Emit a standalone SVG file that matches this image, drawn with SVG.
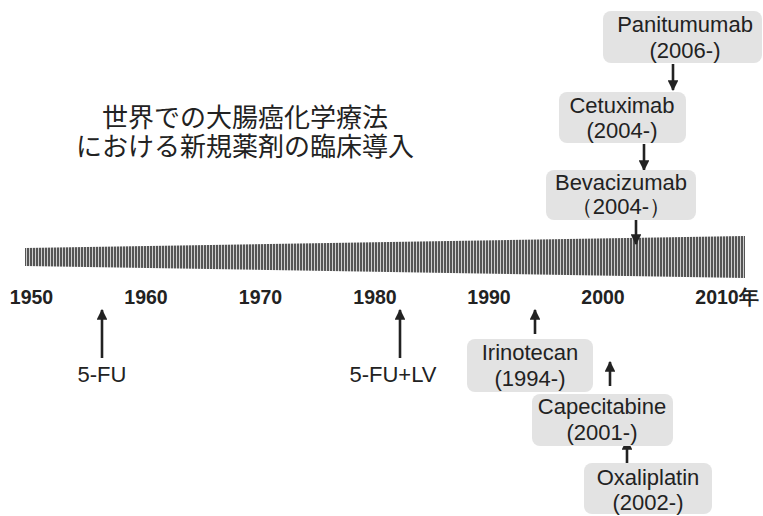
<svg xmlns="http://www.w3.org/2000/svg" width="763" height="516" viewBox="0 0 763 516">
<defs>
<pattern id="stripes" x="0" y="0" width="3" height="10" patternUnits="userSpaceOnUse">
<rect x="0" y="0" width="3" height="10" fill="#cfcfcf"/>
<rect x="0" y="0" width="2" height="10" fill="#555"/>
</pattern>
<marker id="ah" viewBox="0 0 10 10" refX="9" refY="5" markerWidth="4.2" markerHeight="4.2" markerUnits="strokeWidth" orient="auto">
<path d="M0,0 L10,5 L0,10 Z" fill="#222"/>
</marker>
</defs>
<style>
.box{fill:#e3e3e3;}
.lbl{font-family:"Liberation Sans",Arial,sans-serif;font-size:22px;fill:#222;text-anchor:middle;}
.yr{font-family:"Liberation Sans",Arial,sans-serif;font-size:19.5px;font-weight:bold;fill:#222;text-anchor:middle;}
.ttl{font-family:"Noto Sans CJK JP",sans-serif;font-size:26px;fill:#222;text-anchor:middle;}
.arr{stroke:#222;stroke-width:2.6;fill:none;marker-end:url(#ah);}
</style>
<rect width="763" height="516" fill="#fff"/>
<g id="title">
<text class="ttl" x="245" y="127">世界での大腸癌化学療法</text>
<text class="ttl" x="245" y="156">における新規薬剤の臨床導入</text>
</g>
<g id="timeline">
<polygon points="25,248 745,236 745,278 25,266" fill="url(#stripes)"/>
<text class="yr" x="31.5" y="304">1950</text>
<text class="yr" x="146" y="304">1960</text>
<text class="yr" x="260.5" y="304">1970</text>
<text class="yr" x="375" y="304">1980</text>
<text class="yr" x="489" y="304">1990</text>
<text class="yr" x="603" y="304">2000</text>
<text class="yr" x="727" y="304">2010年</text>
</g>
<g id="connectors">
<line class="arr" x1="673" y1="64" x2="673" y2="90"/>
<line class="arr" x1="644" y1="144" x2="644" y2="170"/>
<line class="arr" x1="636" y1="220" x2="636" y2="244"/>
<line class="arr" x1="102" y1="358" x2="102" y2="310"/>
<line class="arr" x1="400" y1="358" x2="400" y2="310"/>
<line class="arr" x1="535" y1="334" x2="535" y2="310"/>
<line class="arr" x1="610" y1="386" x2="610" y2="362"/>
<line class="arr" x1="627" y1="463" x2="627" y2="440"/>
</g>
<g id="n-5fu"><text class="lbl" x="102" y="382">5-FU</text></g>
<g id="n-5fulv"><text class="lbl" x="393" y="382">5-FU+LV</text></g>
<g id="n-panitumumab">
<rect class="box" x="603" y="11" width="159" height="52" rx="8"/>
<text class="lbl" x="685" y="32">Panitumumab</text>
<text class="lbl" x="685" y="58">(2006-)</text>
</g>
<g id="n-cetuximab">
<rect class="box" x="559" y="92" width="127" height="51" rx="8"/>
<text class="lbl" x="622" y="113">Cetuximab</text>
<text class="lbl" x="622" y="138">(2004-)</text>
</g>
<g id="n-bevacizumab">
<rect class="box" x="546" y="170" width="150" height="50" rx="8"/>
<text class="lbl" x="621" y="190">Bevacizumab</text>
<text class="lbl" x="621" y="214">（2004-）</text>
</g>
<g id="n-irinotecan">
<rect class="box" x="467" y="339" width="126" height="53" rx="8"/>
<text class="lbl" x="530" y="360">Irinotecan</text>
<text class="lbl" x="530" y="386">(1994-)</text>
</g>
<g id="n-capecitabine">
<rect class="box" x="532" y="394" width="141" height="52" rx="8"/>
<text class="lbl" x="602" y="414">Capecitabine</text>
<text class="lbl" x="602" y="440">(2001-)</text>
</g>
<g id="n-oxaliplatin">
<rect class="box" x="584" y="463" width="128" height="51" rx="8"/>
<text class="lbl" x="648" y="485">Oxaliplatin</text>
<text class="lbl" x="648" y="510">(2002-)</text>
</g>
</svg>
